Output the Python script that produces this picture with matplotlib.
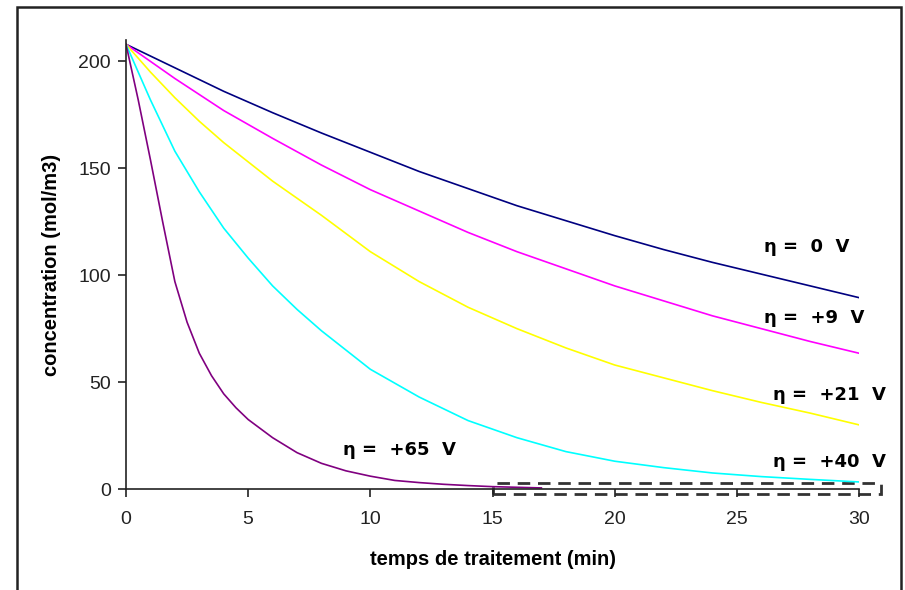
import matplotlib
matplotlib.use("Agg")
import matplotlib.pyplot as plt
from matplotlib.patches import Rectangle

# concentration (mol/m3) vs temps (min)
t_0V = [0, 2, 4, 6, 8, 10, 12, 14, 16, 18, 20, 22, 24, 26, 28, 30]
c_0V = [208, 197, 186, 176, 166.5, 157.5, 148.5, 140.5, 132.5, 125.5, 118.5, 112, 106, 100.5, 95, 89.5]

t_9V = [0, 2, 4, 6, 8, 10, 12, 14, 16, 18, 20, 22, 24, 26, 28, 30]
c_9V = [208, 192, 177, 164, 151.5, 140, 130, 120, 111, 103, 95, 88, 81, 75, 69, 63.5]

t_21V = [0, 1, 2, 3, 4, 5, 6, 8, 10, 12, 14, 16, 18, 20, 22, 24, 26, 28, 30]
c_21V = [208, 195, 183, 172, 162, 153, 144, 128, 111, 97, 85, 75, 66, 58, 52, 46, 40.5, 35.5, 30]

t_40V = [0, 1, 2, 3, 4, 5, 6, 7, 8, 10, 12, 14, 16, 18, 20, 22, 24, 26, 28, 30]
c_40V = [208, 182, 158, 139, 122, 108, 95, 84, 74, 56, 43, 32, 24, 17.5, 13, 10, 7.5, 5.8, 4.5, 3.3]

t_65V = [0, 0.5, 1, 1.5, 2, 2.5, 3, 3.5, 4, 4.5, 5, 6, 7, 8, 9, 10, 11, 12, 13, 14, 15, 16, 17]
c_65V = [208, 182, 154, 125, 97, 78, 63.5, 53, 44.5, 38, 32.5, 24, 17, 12, 8.5, 6, 4, 3, 2.2, 1.6, 1.1, 0.8, 0.5]

labels = ["η =  0  V", "η =  +9  V", "η =  +21  V", "η =  +40  V", "η =  +65  V"]
colors = ["#000080", "#FF00FF", "#FFFF00", "#00FFFF", "#800080"]

fig = plt.figure(figsize=(9.05, 5.9), dpi=100)
ax = fig.add_axes([126 / 905, 1 - 489 / 590, (859 - 126) / 905, (489 - 40) / 590])

series = [(t_0V, c_0V), (t_9V, c_9V), (t_21V, c_21V), (t_40V, c_40V), (t_65V, c_65V)]
for (t, c), col in zip(series, colors):
    ax.plot(t, c, color=col, linewidth=1.2)

# curve labels
label_pos = [(26.1, 113), (26.1, 80), (26.5, 44), (26.5, 12.6), (8.9, 18.3)]
for lab, (x, y) in zip(labels, label_pos):
    ax.text(x, y, lab, fontsize=13, fontweight='bold', family='DejaVu Sans',
            ha='left', va='center', color='black')

ax.set_xlim(0, 30)
ax.set_ylim(0, 210)
ax.set_xticks([0, 5, 10, 15, 20, 25, 30])
ax.set_yticks([0, 50, 100, 150, 200])
for s in ['top', 'right']:
    ax.spines[s].set_visible(False)
for s in ['left', 'bottom']:
    ax.spines[s].set_color('#222222')
    ax.spines[s].set_linewidth(1.2)
ax.tick_params(direction='out', length=6, width=1.2, color='#222222',
               labelsize=14, labelcolor='#222222')
ax.tick_params(axis='x', pad=10)
ax.tick_params(axis='y', pad=5)
for lbl in ax.get_xticklabels() + ax.get_yticklabels():
    lbl.set_family('Liberation Sans')

ax.set_xlabel('temps de traitement (min)', fontsize=14.5, fontweight='bold',
              family='Liberation Sans', labelpad=16)
ax.set_ylabel('concentration (mol/m3)', fontsize=14.5, fontweight='bold',
              family='Liberation Sans', labelpad=12)

# dashed box over the tail of the curves
box = Rectangle((15.0, -2.2), 15.9, 4.9, fill=False, linestyle=(0, (4.5, 2.8)),
                edgecolor='#333333', linewidth=2, clip_on=False)
ax.add_patch(box)

# outer frame of the chart area
frame = Rectangle((17 / 905, -0.02), (901 - 17) / 905, 1 - 7 / 590 + 0.02,
                  transform=fig.transFigure, fill=False, edgecolor='#222222',
                  linewidth=1.8)
fig.patches.append(frame)

fig.savefig('out.png', dpi=100)
